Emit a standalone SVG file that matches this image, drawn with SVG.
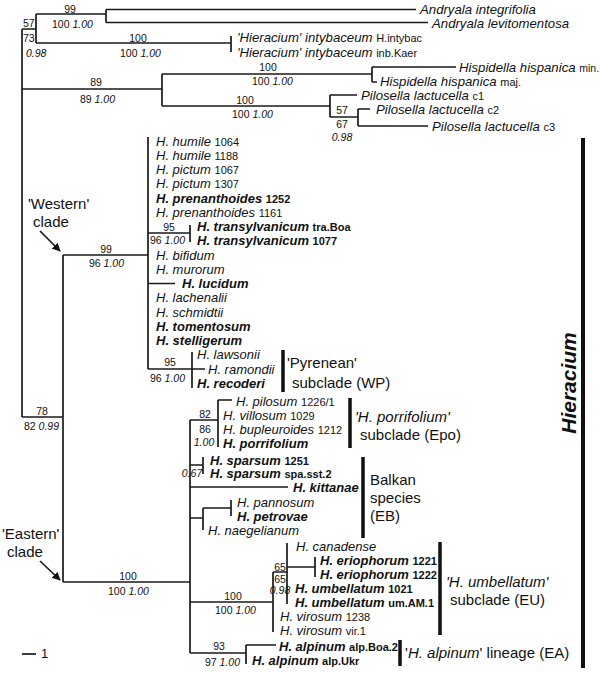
<svg xmlns="http://www.w3.org/2000/svg" width="600" height="673" viewBox="0 0 600 673">
<defs>
<style>
text{font-family:"Liberation Sans",Arial,sans-serif;fill:#111}
.t{font-size:13px;font-style:italic}
.o{font-size:13.2px;font-style:italic}
.b{font-weight:bold}
.n{font-size:11px;font-style:normal}
.s{font-size:10.5px}
.si{font-size:10.5px;font-style:italic}
.c{font-size:15px}
.i{font-style:italic}
.br{stroke:#1a1a1a;stroke-width:1.7;fill:none}
.bar{stroke:#111;stroke-width:3.5}
</style>
<marker id="ah" viewBox="0 0 10 10" refX="9" refY="5" markerWidth="5" markerHeight="5" orient="auto"><path d="M0 0 L10 5 L0 10 z" fill="#111"/></marker>
</defs>
<rect width="600" height="673" fill="#fff"/>
<g id="connectors" class="br">
<path d="M22 29V417M22 29H36M36 14V43M36 14H106M106 9.5V22.5M106 9.5H416M106 22.5H428M36 43H231M231 36V52"/>
<path d="M22 89H162M162 74V106M162 74H372M372 67V82M372 67H456M372 82H377M162 106H330M330 95V117M330 95H357M330 117H358M358 109V126M358 109H370M358 126H428"/>
<path d="M22 417H63M63 255V582M63 255H148M148 137V369M148 233H190M190 225V242M148 283.5H175M148 369H205M192 352V388"/>
<path d="M63 582H190M190 420V653M190 420H218M218 400V447M218 400H232M190 465H203M203 457V474M190 487H288M190 518H203M203 508V530M203 508H231M231 500V516"/>
<path d="M190 602H273M273 572V632M273 572H287M287 543V604M287 567H315M315 557V577M190 653H246M246 645V664M246 645H276"/>
<path d="M22 654H36"/>
<path d="M40 231L60 251" marker-end="url(#ah)"/>
<path d="M40 561L60 580" marker-end="url(#ah)"/>
</g>
<g id="supports">
<text class="s" x="70" y="12.5" text-anchor="middle">99</text>
<text class="s" x="52" y="28">100 <tspan class="i">1.00</tspan></text>
<text class="s" x="23" y="27">57</text>
<text class="s" x="23" y="42">73</text>
<text class="si" x="26" y="57">0.98</text>
<text class="s" x="138" y="41.5" text-anchor="middle">100</text>
<text class="s" x="120" y="57">100 <tspan class="i">1.00</tspan></text>
<text class="s" x="96" y="86" text-anchor="middle">89</text>
<text class="s" x="80" y="103">89 <tspan class="i">1.00</tspan></text>
<text class="s" x="268" y="71" text-anchor="middle">100</text>
<text class="s" x="252" y="85">100 <tspan class="i">1.00</tspan></text>
<text class="s" x="245" y="104" text-anchor="middle">100</text>
<text class="s" x="232" y="118">100 <tspan class="i">1.00</tspan></text>
<text class="s" x="342" y="114" text-anchor="middle">57</text>
<text class="s" x="342" y="127.5" text-anchor="middle">67</text>
<text class="si" x="342" y="141" text-anchor="middle">0.98</text>
<text class="s" x="42" y="415" text-anchor="middle">78</text>
<text class="s" x="24" y="430">82 <tspan class="i">0.99</tspan></text>
<text class="s" x="106" y="252.5" text-anchor="middle">99</text>
<text class="s" x="89" y="267">96 <tspan class="i">1.00</tspan></text>
<text class="s" x="169" y="230.5" text-anchor="middle">95</text>
<text class="s" x="150" y="244">96 <tspan class="i">1.00</tspan></text>
<text class="s" x="170" y="366" text-anchor="middle">95</text>
<text class="s" x="150" y="382">96 <tspan class="i">1.00</tspan></text>
<text class="s" x="128" y="580" text-anchor="middle">100</text>
<text class="s" x="108" y="594.5">100 <tspan class="i">1.00</tspan></text>
<text class="s" x="205" y="417.5" text-anchor="middle">82</text>
<text class="s" x="205" y="432.5" text-anchor="middle">86</text>
<text class="si" x="204" y="445.5" text-anchor="middle">1.00</text>
<text class="si" x="192" y="477" text-anchor="middle">0.67</text>
<text class="s" x="233" y="599.5" text-anchor="middle">100</text>
<text class="s" x="215" y="614">100 <tspan class="i">1.00</tspan></text>
<text class="s" x="280" y="570.5" text-anchor="middle">65</text>
<text class="s" x="280" y="583" text-anchor="middle">65</text>
<text class="si" x="280" y="594" text-anchor="middle">0.98</text>
<text class="s" x="219" y="650" text-anchor="middle">93</text>
<text class="s" x="205" y="666">97 <tspan class="i">1.00</tspan></text>
<text class="c" x="41" y="658" style="font-size:13px">1</text>
</g>
<g id="outgroups">
<g id="and-int"><text class="o" x="420" y="13.5">Andryala integrifolia</text></g>
<g id="and-lev"><text class="o" x="432" y="27.5">Andryala levitomentosa</text></g>
<g id="int-1"><text class="o" x="237" y="42">'Hieracium' intybaceum <tspan class="n">H.intybac</tspan></text></g>
<g id="int-2"><text class="o" x="237" y="56.5">'Hieracium' intybaceum <tspan class="n">inb.Kaer</tspan></text></g>
<g id="his-min"><text class="o" x="459" y="72">Hispidella hispanica <tspan class="n" style="font-size:10.5px">min.</tspan></text></g>
<g id="his-maj"><text class="o" x="380" y="86">Hispidella hispanica <tspan class="n">maj.</tspan></text></g>
<g id="pil-c1"><text class="o" x="361" y="99.5">Pilosella lactucella <tspan class="n">c1</tspan></text></g>
<g id="pil-c2"><text class="o" x="376" y="113.5">Pilosella lactucella <tspan class="n">c2</tspan></text></g>
<g id="pil-c3"><text class="o" x="432" y="130.5">Pilosella lactucella <tspan class="n">c3</tspan></text></g>
</g>
<g id="western">
<g id="hum1064"><text class="t" x="156" y="145.5">H. humile <tspan class="n">1064</tspan></text></g>
<g id="hum1188"><text class="t" x="156" y="159.8">H. humile <tspan class="n">1188</tspan></text></g>
<g id="pic1067"><text class="t" x="156" y="174">H. pictum <tspan class="n">1067</tspan></text></g>
<g id="pic1307"><text class="t" x="156" y="188.3">H. pictum <tspan class="n">1307</tspan></text></g>
<g id="pre1252"><text class="t b" x="156" y="202.5">H. prenanthoides <tspan class="n">1252</tspan></text></g>
<g id="pre1161"><text class="t" x="156" y="216.8">H. prenanthoides <tspan class="n">1161</tspan></text></g>
<g id="traBoa"><text class="t b" x="197" y="231">H. transylvanicum <tspan class="n">tra.Boa</tspan></text></g>
<g id="tra1077"><text class="t b" x="197" y="245.3">H. transylvanicum <tspan class="n">1077</tspan></text></g>
<g id="bifidum"><text class="t" x="156" y="259.5">H. bifidum</text></g>
<g id="murorum"><text class="t" x="156" y="273.8">H. murorum</text></g>
<g id="lucidum"><text class="t b" x="182" y="288">H. lucidum</text></g>
<g id="lachenalii"><text class="t" x="156" y="302.3">H. lachenalii</text></g>
<g id="schmidtii"><text class="t" x="156" y="316.5">H. schmidtii</text></g>
<g id="tomentosum"><text class="t b" x="156" y="330.8">H. tomentosum</text></g>
<g id="stelligerum"><text class="t b" x="156" y="345">H. stelligerum</text></g>
<g id="lawsonii"><text class="t" x="197" y="359.3">H. lawsonii</text></g>
<g id="ramondii"><text class="t" x="208" y="373.5">H. ramondii</text></g>
<g id="recoderi"><text class="t b" x="197" y="387.8">H. recoderi</text></g>
</g>
<g id="eastern">
<g id="pilosum"><text class="t" x="236" y="405.5">H. pilosum <tspan class="n">1226/1</tspan></text></g>
<g id="villosum"><text class="t" x="223" y="419.5">H. villosum <tspan class="n">1029</tspan></text></g>
<g id="bupleuroides"><text class="t" x="223" y="433.5">H. bupleuroides <tspan class="n">1212</tspan></text></g>
<g id="porrifolium"><text class="t b" x="223" y="447.5">H. porrifolium</text></g>
<g id="spa1251"><text class="t b" x="210" y="464.5">H. sparsum <tspan class="n">1251</tspan></text></g>
<g id="spasst2"><text class="t b" x="210" y="478">H. sparsum <tspan class="n">spa.sst.2</tspan></text></g>
<g id="kittanae"><text class="t b" x="293" y="491.5">H. kittanae</text></g>
<g id="pannosum"><text class="t" x="237" y="507">H. pannosum</text></g>
<g id="petrovae"><text class="t b" x="237" y="520.5">H. petrovae</text></g>
<g id="naegelianum"><text class="t" x="208" y="535">H. naegelianum</text></g>
<g id="canadense"><text class="t" x="296" y="550.5">H. canadense</text></g>
<g id="eri1221"><text class="t b" x="320" y="564.5">H. eriophorum <tspan class="n">1221</tspan></text></g>
<g id="eri1222"><text class="t b" x="320" y="578.5">H. eriophorum <tspan class="n">1222</tspan></text></g>
<g id="umb1021"><text class="t b" x="295" y="592.5">H. umbellatum <tspan class="n">1021</tspan></text></g>
<g id="umbAM1"><text class="t b" x="295" y="606.5">H. umbellatum <tspan class="n">um.AM.1</tspan></text></g>
<g id="vir1238"><text class="t" x="280" y="620.5">H. virosum <tspan class="n">1238</tspan></text></g>
<g id="vir1"><text class="t" x="280" y="634.5">H. virosum <tspan class="n">vir.1</tspan></text></g>
<g id="alpBoa2"><text class="t b" x="279" y="650.5">H. alpinum <tspan class="n">alp.Boa.2</tspan></text></g>
<g id="alpUkr"><text class="t b" x="252" y="664.5">H. alpinum <tspan class="n">alp.Ukr</tspan></text></g>
</g>
<g id="clade-labels">
<g id="western-label"><text class="c" x="28" y="208.5">'Western'</text><text class="c" x="33" y="227">clade</text></g>
<g id="eastern-label"><text class="c" x="2" y="539">'Eastern'</text><text class="c" x="7" y="557">clade</text></g>
<g id="wp"><line class="bar" x1="283" y1="350" x2="283" y2="392"/><text class="c" x="287" y="367.5">'Pyrenean'</text><text class="c" x="292" y="387.5">subclade (WP)</text></g>
<g id="epo"><line class="bar" x1="350" y1="398" x2="350" y2="448"/><text class="c" x="355" y="422"><tspan class="i">'H. porrifolium'</tspan></text><text class="c" x="360" y="440">subclade (Epo)</text></g>
<g id="eb"><line class="bar" x1="363" y1="457" x2="363" y2="538"/><text class="c" x="370" y="485">Balkan</text><text class="c" x="370" y="502.5">species</text><text class="c" x="370" y="520.5">(EB)</text></g>
<g id="eu"><line class="bar" x1="440" y1="542" x2="440" y2="635"/><text class="c i" x="446" y="587">'H. umbellatum'</text><text class="c" x="450" y="605">subclade (EU)</text></g>
<g id="ea"><line class="bar" x1="400" y1="640" x2="400" y2="666"/><text class="c" x="405" y="657.5">'<tspan class="i">H. alpinum</tspan>' lineage (EA)</text></g>
<g id="hieracium"><line class="bar" x1="583" y1="138" x2="583" y2="668" style="stroke-width:4"/><text x="576" y="383" transform="rotate(-90 576 383)" text-anchor="middle" style="font-size:21px;font-weight:bold;font-style:italic">Hieracium</text></g>
</g>
</svg>
